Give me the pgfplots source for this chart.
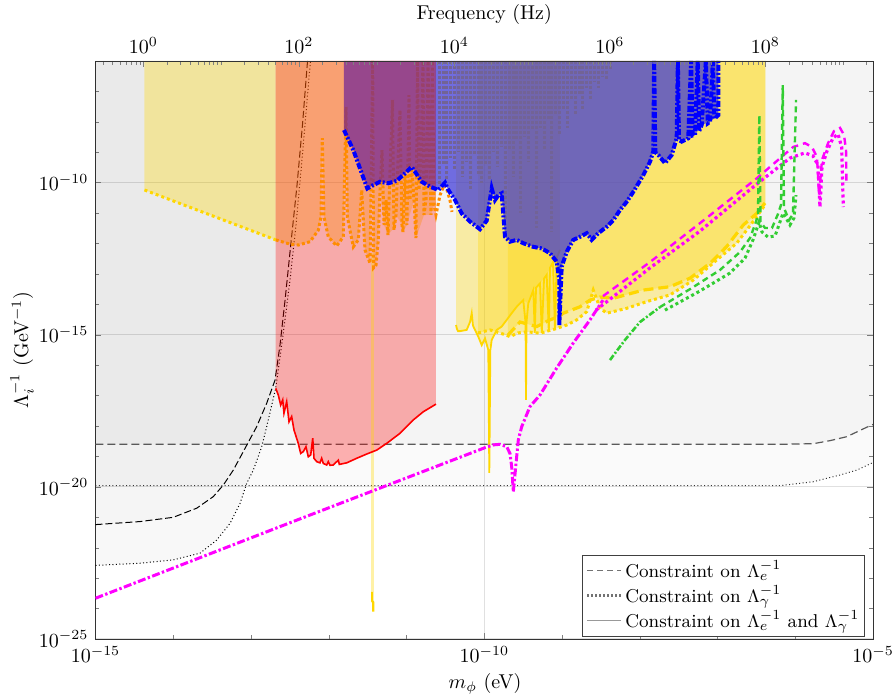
\documentclass[border=0pt]{standalone}
\usepackage{pgfplots}
\pgfplotsset{compat=1.18}
\definecolor{gold}{RGB}{255,215,0}
\definecolor{dorange}{RGB}{255,140,0}
\definecolor{mag}{RGB}{255,0,255}
\definecolor{lgreen}{RGB}{50,205,50}
\definecolor{bfill}{RGB}{55,50,215}
\definecolor{pfill}{RGB}{110,34,151}
\def\minorlist{-0.523}
\foreach \d in {-1,0,...,9}{%
  \foreach \k in {0.301,0.477,0.602,0.699,0.778,0.845,0.903,0.954,1}{%
    \pgfmathsetmacro\v{\d+\k}%
    \xdef\minorlist{\minorlist,\v}%
  }%
}
\begin{document}
\begin{tikzpicture}
\useasboundingbox (-47.75pt,-30.5pt) rectangle (398.75pt,319.5pt);
\begin{axis}[
  scale only axis, width=388.75pt, height=289pt,
  xmin=-15, xmax=-5, ymin=-25, ymax=-6,
  xtick={-15,-10,-5}, xticklabels={$10^{-15}$,$10^{-10}$,$10^{-5}$},
  minor xtick={-14,-13,-12,-11,-9,-8,-7,-6},
  ytick={-25,-20,-15,-10}, yticklabels={$10^{-25}$,$10^{-20}$,$10^{-15}$,$10^{-10}$},
  minor ytick={-24,-23,-22,-21,-19,-18,-17,-16,-14,-13,-12,-11,-9,-8,-7,-6},
  xtick pos=left, tick align=inside,
  major tick length=3pt, minor tick length=2pt,
  grid=major, major grid style={black!12, line width=0.5pt},
  axis line style={black!80},
  xlabel={$m_\phi$ (eV)}, ylabel={$\Lambda_i^{-1}$ (GeV$^{-1}$)},
  xlabel style={at={(axis description cs:0.501,-0.078)}, anchor=center},
  ylabel style={at={(axis description cs:-0.0945,0.5)}, anchor=center},
  legend cell align=left,
  legend style={at={(rel axis cs:0.99,0.004)}, anchor=south east, draw=black!75, fill=white, inner sep=1.5pt, row sep=0pt, nodes={inner sep=1.3pt}, font=\fontsize{9.3}{10.5}\selectfont},
]
% ---- gray constraint regions
\addplot[draw=none, fill=black, fill opacity=0.02, forget plot] coordinates {(-15,-19.96)(-6.196,-19.96)(-5.768,-19.83)(-5.424,-19.61)(-5.21,-19.45)(-5,-19.20)} \closedcycle;
\addplot[draw=none, fill=black, fill opacity=0.025, forget plot] coordinates {(-15,-18.60)(-6.196,-18.60)(-5.768,-18.58)(-5.553,-18.48)(-5.338,-18.35)(-5.081,-18.04)(-5,-17.95)} \closedcycle;
\addplot[draw=none, fill=black, fill opacity=0.028, forget plot] coordinates {(-15,-22.58)(-14.428,-22.51)(-14.0,-22.40)(-13.656,-22.18)(-13.441,-21.75)(-13.270,-21.20)(-13.141,-20.54)(-13.055,-19.88)(-12.970,-19.45)(-12.862,-18.68)(-12.798,-18.02)(-12.682,-16.76)(-12.588,-15.01)(-12.498,-13.20)(-12.421,-11.39)(-12.344,-9.25)(-12.267,-6.95)(-12.235,-6.0)} \closedcycle;
\addplot[draw=none, fill=black, fill opacity=0.012, forget plot] coordinates {(-15,-21.24)(-14.428,-21.14)(-14.0,-21.0)(-13.698,-20.70)(-13.485,-20.32)(-13.356,-19.94)(-13.228,-19.45)(-13.099,-18.84)(-12.927,-18.02)(-12.798,-17.25)(-12.691,-16.49)(-12.627,-15.34)(-12.562,-13.86)(-12.486,-11.98)(-12.408,-10.08)(-12.338,-8.10)(-12.273,-6.0)} \closedcycle;
% ---- gray constraint lines
\addplot[black!65, line width=0.6pt, dash pattern=on 4pt off 2pt, forget plot] coordinates {(-15,-18.60)(-6.196,-18.60)(-5.768,-18.58)(-5.553,-18.48)(-5.338,-18.35)(-5.081,-18.04)(-5,-17.95)};
\addplot[black!80, line width=0.5pt, dash pattern=on 0.5pt off 1.2pt, forget plot] coordinates {(-15,-19.96)(-6.196,-19.96)(-5.768,-19.83)(-5.424,-19.61)(-5.21,-19.45)(-5,-19.20)};
\addplot[black, line width=0.5pt, dash pattern=on 3.5pt off 1.5pt, forget plot] coordinates {(-15,-21.24)(-14.428,-21.14)(-14.0,-21.0)(-13.698,-20.70)(-13.485,-20.32)(-13.356,-19.94)(-13.228,-19.45)(-13.099,-18.84)(-12.927,-18.02)(-12.798,-17.25)(-12.691,-16.49)(-12.627,-15.34)(-12.562,-13.86)(-12.486,-11.98)(-12.408,-10.08)(-12.338,-8.10)(-12.273,-6.0)};
\addplot[black, line width=0.5pt, dash pattern=on 0.5pt off 1.2pt, forget plot] coordinates {(-15,-22.58)(-14.428,-22.51)(-14.0,-22.40)(-13.656,-22.18)(-13.441,-21.75)(-13.270,-21.20)(-13.141,-20.54)(-13.055,-19.88)(-12.970,-19.45)(-12.862,-18.68)(-12.798,-18.02)(-12.682,-16.76)(-12.588,-15.01)(-12.498,-13.20)(-12.421,-11.39)(-12.344,-9.25)(-12.267,-6.95)(-12.235,-6.0)};
% ---- tan (gold dotted, low mass)
\addplot[draw=none, fill=gold, fill opacity=0.33, forget plot] coordinates {(-14.37,-10.24)(-12.682,-11.88)} \closedcycle;
% ---- red region
\addplot[draw=none, fill=red, fill opacity=0.3, forget plot] coordinates {(-12.682,-16.76)(-12.649,-16.98)(-12.618,-17.31)(-12.592,-17.14)(-12.576,-17.58)(-12.541,-17.20)(-12.511,-17.86)(-12.477,-17.69)(-12.447,-18.13)(-12.392,-18.57)(-12.361,-18.90)(-12.327,-18.84)(-12.293,-18.68)(-12.263,-19.01)(-12.232,-18.95)(-12.206,-18.40)(-12.190,-19.06)(-12.155,-19.17)(-12.113,-19.21)(-12.091,-19.06)(-12.070,-19.23)(-12.026,-19.28)(-12.006,-19.17)(-11.984,-19.29)(-11.942,-19.28)(-11.877,-19.12)(-11.864,-19.26)(-11.769,-19.21)(-11.641,-19.06)(-11.512,-18.92)(-11.383,-18.79)(-11.255,-18.57)(-11.084,-18.24)(-10.913,-17.80)(-10.784,-17.53)(-10.621,-17.28)} \closedcycle;
% ---- orange region
\addplot[draw=none, fill=dorange, fill opacity=0.33, forget plot] coordinates {(-12.682,-11.88)(-12.498,-12.02)(-12.392,-12.05)(-12.241,-11.94)(-12.134,-11.56)(-12.100,-11.12)(-12.083,-8.54)(-12.061,-11.12)(-12.006,-11.78)(-11.898,-12.08)(-11.813,-11.78)(-11.778,-7.51)(-11.761,-11.12)(-11.684,-12.11)(-11.620,-11.88)(-11.576,-10.24)(-11.534,-12.21)(-11.469,-12.65)(-11.435,-6.0)(-11.424,-12.80)(-11.392,-12.71)(-11.363,-11.88)(-11.341,-10.24)(-11.289,-11.39)(-11.238,-11.72)(-11.186,-11.56)(-11.135,-11.06)(-11.058,-11.39)(-11.045,-11.62)(-10.994,-11.39)(-10.904,-10.57)(-10.878,-11.82)(-10.775,-11.06)(-10.685,-11.06)(-10.646,-10.73)(-10.621,-11.06)} \closedcycle;
% ---- yellow regions (high mass)
\addplot[draw=none, fill=gold, fill opacity=0.33, forget plot] coordinates {(-10.363,-14.68)(-10.338,-14.88)(-10.312,-14.88)(-10.226,-14.84)(-10.183,-14.58)(-10.161,-14.29)(-10.145,-14.70)(-10.119,-14.84)(-10.077,-15.06)(-10.033,-15.34)(-9.990,-15.12)(-9.948,-15.50)(-9.904,-15.17)(-9.840,-14.84)(-9.776,-14.73)(-9.711,-14.51)(-9.647,-14.29)(-9.583,-14.08)(-9.498,-13.86)(-9.434,-13.97)(-9.369,-13.53)(-9.283,-13.31)(-9.197,-13.03)(-9.154,-12.80)(-9.116,-12.61)(-9.068,-12.48)(-9.026,-12.21)} \closedcycle;
\addplot[draw=none, fill=gold, fill opacity=0.33, forget plot] coordinates {(-10.080,-14.94)(-9.926,-14.84)(-9.797,-14.94)(-9.669,-15.06)(-9.566,-14.94)(-9.454,-14.90)(-9.283,-14.95)(-9.068,-14.79)(-8.939,-14.68)(-8.811,-14.51)(-8.682,-14.24)(-8.598,-13.53)(-8.511,-14.12)(-8.425,-14.29)(-8.168,-14.13)(-7.911,-13.91)(-7.611,-13.69)(-7.311,-13.20)(-7.010,-12.54)(-6.753,-11.99)(-6.560,-11.34)(-6.496,-11.12)(-6.453,-10.96)(-6.383,-10.73)} \closedcycle;
\addplot[draw=none, fill=gold, fill opacity=0.33, forget plot] coordinates {(-9.695,-15.01)(-9.540,-14.58)(-9.325,-14.73)(-9.154,-14.51)(-9.048,-14.41)(-8.983,-14.29)(-8.768,-14.08)(-8.640,-13.86)(-8.511,-13.76)(-8.340,-13.80)(-7.955,-13.53)(-7.611,-13.42)(-7.354,-13.14)(-7.096,-12.65)(-6.882,-12.10)(-6.668,-11.39)(-6.496,-11.01)(-6.383,-10.67)} \closedcycle;
% ---- narrow resonance (pale vertical line)
\addplot[gold, line width=1.2pt, opacity=0.35, forget plot] coordinates {(-11.435,-12.3)(-11.435,-23.45)};
\addplot[gold, line width=1.2pt, forget plot] coordinates {(-11.44,-23.45)(-11.44,-23.75)(-11.428,-23.8)(-11.428,-24.1)};
% ---- gold lines
\addplot[gold, line width=1.5pt, dash pattern=on 1.5pt off 1.5pt, forget plot] coordinates {(-14.37,-10.24)(-12.682,-11.88)};
\addplot[gold, line width=1.5pt, dash pattern=on 1.5pt off 1.5pt, forget plot] coordinates {(-10.080,-14.94)(-9.926,-14.84)(-9.797,-14.94)(-9.669,-15.06)(-9.566,-14.94)(-9.454,-14.90)(-9.283,-14.95)(-9.068,-14.79)(-8.939,-14.68)(-8.811,-14.51)(-8.682,-14.24)(-8.598,-13.53)(-8.511,-14.12)(-8.425,-14.29)(-8.168,-14.13)(-7.911,-13.91)(-7.611,-13.69)(-7.311,-13.20)(-7.010,-12.54)(-6.753,-11.99)(-6.560,-11.34)(-6.496,-11.12)(-6.453,-10.96)(-6.389,-10.73)};
\addplot[gold, line width=1.6pt, dash pattern=on 5pt off 2.5pt, forget plot] coordinates {(-9.695,-15.01)(-9.540,-14.58)(-9.325,-14.73)(-9.154,-14.51)(-9.048,-14.41)(-8.983,-14.29)(-8.768,-14.08)(-8.640,-13.86)(-8.511,-13.76)(-8.340,-13.80)(-7.955,-13.53)(-7.611,-13.42)(-7.354,-13.14)(-7.096,-12.65)(-6.882,-12.10)(-6.668,-11.39)(-6.496,-11.01)(-6.389,-10.67)};
\addplot[gold, line width=0.9pt, forget plot] coordinates {(-10.363,-14.68)(-10.350,-14.82)(-10.338,-14.88)(-10.312,-14.88)(-10.226,-14.84)(-10.183,-14.58)(-10.161,-14.29)(-10.145,-14.70)(-10.119,-14.84)(-10.077,-15.06)(-10.033,-15.34)(-9.990,-15.12)(-9.948,-15.50)(-9.935,-19.54)(-9.922,-15.50)(-9.904,-15.17)(-9.840,-14.84)(-9.776,-14.73)(-9.711,-14.51)(-9.647,-14.29)(-9.583,-14.08)(-9.498,-13.86)(-9.469,-14.6)(-9.463,-17.14)(-9.457,-14.6)(-9.434,-13.97)(-9.369,-13.53)(-9.350,-14.94)(-9.334,-13.45)(-9.283,-13.31)(-9.260,-14.94)(-9.231,-13.15)(-9.197,-13.03)(-9.170,-14.90)(-9.154,-12.80)(-9.116,-12.61)(-9.090,-14.85)(-9.068,-12.48)(-9.026,-12.21)};
% ---- orange dotted curve
\addplot[dorange, line width=1.5pt, dash pattern=on 1.5pt off 1.2pt, forget plot] coordinates {(-12.682,-11.88)(-12.498,-12.02)(-12.392,-12.05)(-12.241,-11.94)(-12.134,-11.56)(-12.100,-11.12)(-12.083,-8.54)(-12.061,-11.12)(-12.006,-11.78)(-11.898,-12.08)(-11.813,-11.78)(-11.778,-7.51)(-11.761,-11.12)(-11.684,-12.11)(-11.620,-11.88)(-11.576,-10.24)(-11.534,-12.21)(-11.469,-12.65)(-11.435,-6.0)(-11.424,-12.80)(-11.392,-12.71)(-11.363,-11.88)(-11.341,-10.24)(-11.315,-8.93)(-11.289,-11.39)(-11.264,-10.57)(-11.238,-11.72)(-11.212,-9.58)(-11.180,-7.28)(-11.161,-11.56)(-11.135,-11.06)(-11.109,-9.25)(-11.084,-7.61)(-11.058,-11.39)(-11.045,-11.62)(-11.019,-9.75)(-10.994,-11.39)(-10.968,-7.12)(-10.955,-10.57)(-10.933,-9.48)(-10.904,-10.57)(-10.878,-11.82)(-10.859,-6.0)(-10.839,-10.24)(-10.814,-9.25)(-10.788,-6.0)(-10.775,-11.06)(-10.749,-10.57)(-10.723,-6.0)(-10.704,-8.93)(-10.685,-11.06)(-10.666,-6.0)(-10.646,-10.73)(-10.621,-11.06)(-10.569,-10.41)(-10.518,-10.08)(-10.479,-10.24)(-10.441,-10.57)(-10.415,-10.96)};
% ---- gold spikes under the blue region
\addplot[ycomb, gold, line width=1.5pt, dash pattern=on 1.5pt off 1pt, forget plot] coordinates {(-10.58,-10.1)(-10.53,-9.4)(-10.48,-9.9)(-10.43,-9.2)(-10.38,-9.6)(-10.33,-9.0)(-10.28,-9.8)(-10.23,-9.3)(-10.18,-10.2)(-10.13,-9.1)(-10.08,-9.7)(-10.03,-10.0)(-9.98,-9.4)(-9.93,-9.9)(-9.88,-9.0)(-9.83,-9.5)(-9.78,-8.8)(-9.73,-11.2)(-9.68,-8.9)(-9.63,-9.8)(-9.58,-8.6)(-9.53,-11.0)(-9.48,-8.5)(-9.43,-9.3)(-9.38,-8.3)(-9.33,-11.5)(-9.28,-8.2)(-9.23,-8.9)(-9.18,-7.9)(-9.13,-11.6)(-9.08,-7.8)(-9.03,-8.4)(-8.98,-7.6)(-8.93,-8.2)(-8.88,-7.3)(-8.83,-7.8)(-8.78,-7.1)(-8.73,-7.6)(-8.68,-6.9)(-8.63,-7.3)(-8.58,-6.7)(-8.53,-6.9)(-8.48,-6.5)(-8.43,-6.6)(-8.38,-6.3)};
% ---- purple (left) and blue (right) parts of the blue region
\addplot[draw=none, fill=pfill, fill opacity=0.7, forget plot] coordinates {(-11.804,-8.27)(-11.684,-8.93)(-11.576,-9.69)(-11.504,-10.19)(-11.427,-10.08)(-11.341,-9.97)(-11.234,-10.02)(-11.126,-9.94)(-11.019,-9.69)(-10.933,-9.48)(-10.878,-9.69)(-10.804,-9.97)(-10.698,-10.13)(-10.621,-10.21)} \closedcycle;
\addplot[draw=none, fill=bfill, fill opacity=0.7, forget plot] coordinates {(-10.621,-10.21)(-10.591,-10.24)(-10.505,-10.00)(-10.462,-10.24)(-10.376,-10.57)(-10.290,-11.01)(-10.183,-11.28)(-10.055,-11.53)(-9.969,-11.25)(-9.904,-10.19)(-9.862,-10.57)(-9.819,-10.41)(-9.776,-10.35)(-9.733,-11.78)(-9.669,-11.94)(-9.583,-11.88)(-9.498,-11.99)(-9.369,-12.11)(-9.261,-12.16)(-9.154,-12.32)(-9.068,-12.60)(-9.035,-13.20)(-9.035,-14.68)(-9.004,-12.76)(-8.939,-12.27)(-8.855,-11.88)(-8.768,-11.78)(-8.682,-11.66)(-8.618,-11.88)(-8.533,-11.66)(-8.425,-11.45)(-8.340,-11.23)(-8.254,-10.90)(-8.168,-10.63)(-8.083,-10.30)(-7.954,-9.75)(-7.868,-9.31)(-7.826,-8.98)(-7.761,-9.09)(-7.675,-9.36)(-7.589,-9.09)(-7.525,-8.54)(-7.460,-8.65)(-7.376,-8.54)(-7.289,-8.43)(-7.203,-8.10)(-7.096,-8.00)(-6.990,-7.78)(-6.990,-6.0)} \closedcycle;
\addplot[blue, line width=2pt, dash pattern=on 3pt off 1pt on 1pt off 1pt, forget plot] coordinates {(-11.804,-8.27)(-11.684,-8.93)(-11.576,-9.69)(-11.504,-10.19)(-11.427,-10.08)(-11.341,-9.97)(-11.234,-10.02)(-11.126,-9.94)(-11.019,-9.69)(-10.933,-9.48)(-10.878,-9.69)(-10.804,-9.97)(-10.698,-10.13)(-10.591,-10.24)(-10.505,-10.00)(-10.462,-10.24)(-10.376,-10.57)(-10.290,-11.01)(-10.183,-11.28)(-10.055,-11.53)(-9.969,-11.25)(-9.904,-10.19)(-9.862,-10.57)(-9.819,-10.41)(-9.776,-10.35)(-9.733,-11.78)(-9.669,-11.94)(-9.583,-11.88)(-9.498,-11.99)(-9.369,-12.11)(-9.261,-12.16)(-9.154,-12.32)(-9.068,-12.60)(-9.035,-13.20)(-9.035,-14.68)(-9.004,-12.76)(-8.939,-12.27)(-8.855,-11.88)(-8.768,-11.78)(-8.682,-11.66)(-8.618,-11.88)(-8.533,-11.66)(-8.425,-11.45)(-8.340,-11.23)(-8.254,-10.90)(-8.168,-10.63)(-8.083,-10.30)(-7.954,-9.75)(-7.868,-9.31)(-7.826,-8.98)(-7.815,-6.0)(-7.800,-9.0)(-7.761,-9.09)(-7.675,-9.36)(-7.589,-9.09)(-7.525,-8.54)(-7.510,-6.0)(-7.495,-8.6)(-7.460,-8.65)(-7.376,-8.54)(-7.340,-6.0)(-7.320,-8.45)(-7.289,-8.43)(-7.255,-6.0)(-7.235,-8.3)(-7.203,-8.10)(-7.150,-6.0)(-7.125,-8.05)(-7.096,-8.00)(-7.060,-6.0)(-7.040,-7.9)(-6.990,-7.78)(-6.990,-6.0)};
% ---- red curve
\addplot[red, line width=0.8pt, forget plot] coordinates {(-12.682,-16.76)(-12.649,-16.98)(-12.618,-17.31)(-12.592,-17.14)(-12.576,-17.58)(-12.541,-17.20)(-12.511,-17.86)(-12.477,-17.69)(-12.447,-18.13)(-12.392,-18.57)(-12.361,-18.90)(-12.327,-18.84)(-12.293,-18.68)(-12.263,-19.01)(-12.232,-18.95)(-12.206,-18.40)(-12.190,-19.06)(-12.155,-19.17)(-12.113,-19.21)(-12.091,-19.06)(-12.070,-19.23)(-12.026,-19.28)(-12.006,-19.17)(-11.984,-19.29)(-11.942,-19.28)(-11.877,-19.12)(-11.864,-19.26)(-11.769,-19.21)(-11.641,-19.06)(-11.512,-18.92)(-11.383,-18.79)(-11.255,-18.57)(-11.084,-18.24)(-10.913,-17.80)(-10.784,-17.53)(-10.621,-17.28)};
% ---- magenta
\addplot[mag, line width=1.5pt, dash pattern=on 4pt off 1.2pt on 1.2pt off 1.2pt, forget plot] coordinates {(-15,-23.66)(-12.5,-21.18)(-9.990,-18.71)(-9.884,-18.62)(-9.797,-18.60)(-9.711,-18.68)(-9.669,-18.90)(-9.647,-19.34)(-9.626,-20.16)(-9.583,-19.01)(-9.562,-18.46)(-9.518,-18.02)(-9.412,-17.36)(-9.283,-16.98)(-9.068,-16.09)(-8.855,-15.27)(-8.640,-14.51)(-8.473,-13.86)};
\addplot[mag, line width=1.6pt, dash pattern=on 1.5pt off 1.5pt, forget plot] coordinates {(-8.563,-14.19)(-7.868,-12.80)(-7.225,-11.59)(-6.492,-10.04)(-6.068,-9.19)(-5.875,-9.02)(-5.772,-9.12)(-5.708,-9.42)(-5.682,-10.80)(-5.656,-9.48)(-5.592,-8.96)(-5.514,-8.53)(-5.450,-8.40)(-5.403,-8.83)(-5.382,-10.80)};
\addplot[mag, line width=1.2pt, dash pattern=on 3.5pt off 2.5pt, forget plot] coordinates {(-8.473,-13.73)(-7.868,-12.61)(-7.225,-11.33)(-6.492,-9.85)(-6.029,-8.83)(-5.875,-8.70)(-5.785,-8.83)(-5.720,-9.16)(-5.694,-10.41)(-5.656,-9.25)(-5.578,-8.70)(-5.501,-8.30)(-5.424,-8.20)(-5.373,-8.43)(-5.347,-8.93)(-5.341,-10.08)};
% ---- green
\addplot[lgreen, line width=1.3pt, dash pattern=on 3pt off 1pt on 1pt off 1pt, forget plot] coordinates {(-8.383,-15.83)(-8.190,-15.17)(-7.997,-14.58)(-7.740,-14.09)};
\addplot[lgreen, line width=1.2pt, dash pattern=on 3pt off 2pt, forget plot] coordinates {(-7.740,-14.09)(-7.354,-13.50)(-6.968,-12.87)(-6.711,-12.28)(-6.582,-11.82)(-6.505,-11.29)(-6.479,-11.03)(-6.462,-7.78)(-6.447,-11.29)(-6.389,-11.49)(-6.299,-11.49)(-6.222,-11.03)(-6.183,-10.73)(-6.161,-6.79)(-6.145,-10.83)(-6.080,-11.23)(-6.029,-11.03)(-5.990,-7.28)};
\addplot[lgreen, line width=1.5pt, dash pattern=on 1.5pt off 1.5pt, forget plot] coordinates {(-7.676,-14.19)(-7.225,-13.56)(-6.839,-12.97)(-6.646,-12.48)(-6.543,-11.88)(-6.492,-11.49)(-6.466,-11.29)(-6.428,-11.62)(-6.350,-11.79)(-6.260,-11.75)(-6.196,-11.29)(-6.158,-11.00)(-6.119,-11.16)(-6.068,-11.39)(-6.016,-11.16)(-5.990,-10.41)};
% ---- legend
\addlegendimage{black!55, line width=0.8pt, dash pattern=on 3pt off 2pt}
\addlegendentry{Constraint on $\Lambda_e^{-1}$}
\addlegendimage{black!55, line width=1.5pt, dash pattern=on 1pt off 1pt}
\addlegendentry{Constraint on $\Lambda_\gamma^{-1}$}
\addlegendimage{black!40, line width=0.6pt}
\addlegendentry{Constraint on $\Lambda_e^{-1}$ and $\Lambda_\gamma^{-1}$}
\end{axis}
\begin{axis}[
  scale only axis, width=388.75pt, height=289pt,
  xmin=-0.617, xmax=9.383, ymin=0, ymax=1,
  axis x line*=top, axis y line=none,
  axis line style={black!80},
  xtick={0,2,4,6,8}, xticklabels={$10^{0}$,$10^{2}$,$10^{4}$,$10^{6}$,$10^{8}$},
  minor xtick=\minorlist,
  tick align=inside, major tick length=3pt, minor tick length=2pt,
  xlabel={Frequency (Hz)},
  xlabel style={at={(axis description cs:0.5,1.081)}, anchor=center},
]
\end{axis}
\end{tikzpicture}
\end{document}
